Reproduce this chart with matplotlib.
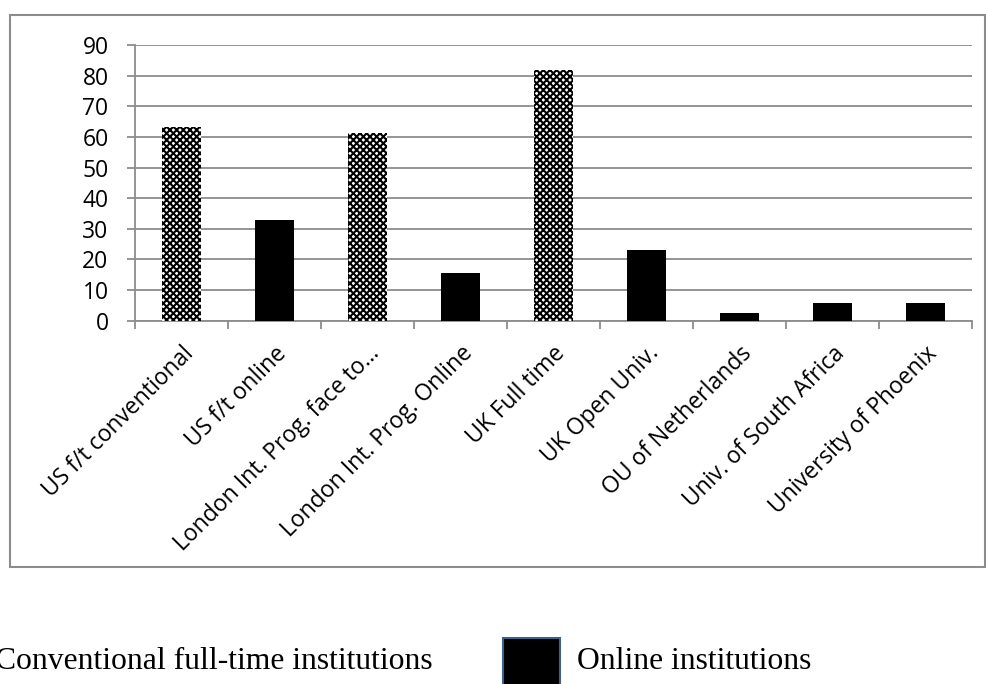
import matplotlib
matplotlib.use("Agg")
import matplotlib.pyplot as plt
from matplotlib.patches import Rectangle

# dados do gráfico
categorias = ["US f/t conventional", "US f/t online", "London Int. Prog. face to...",
              "London Int. Prog. Online", "UK Full time", "UK Open Univ.",
              "OU of Netherlands", "Univ. of South Africa", "University of Phoenix"]
valores = [63.1, 32.8, 61.4, 15.5, 82.0, 23.0, 2.5, 5.8, 5.8]
convencional = [True, False, True, False, True, False, False, False, False]
yticks = [0, 10, 20, 30, 40, 50, 60, 70, 80, 90]
legenda = ["Conventional full-time institutions", "Online institutions"]

W, H = 987, 684
cinza = "#8c8c8c"

plt.rcParams["hatch.linewidth"] = 1.5
fig = plt.figure(figsize=(W / 100, H / 100), dpi=100)
ax = fig.add_axes([135 / W, 1 - 320.7 / H, (972 - 135) / W, (320.7 - 45) / H])

x = list(range(len(categorias)))
for i, v in enumerate(valores):
    if convencional[i]:
        ax.bar(i, v, width=0.41, facecolor="white", edgecolor="black",
               hatch="xxxxx", linewidth=0, zorder=3)
    else:
        ax.bar(i, v, width=0.41, color="black", linewidth=0, zorder=3)

ax.set_xlim(-0.5, len(categorias) - 0.5)
ax.set_ylim(0, 90)
ax.set_yticks(yticks)
ax.set_xticks(x)
ax.set_xticklabels(categorias, rotation=45, ha="right", rotation_mode="anchor",
                   family="Open Sans", fontsize=16.5)
for lab in ax.get_yticklabels():
    lab.set_family("Open Sans")
    lab.set_fontsize(16.5)
ax.set_xticks([i - 0.5 for i in range(len(categorias) + 1)], minor=True)
ax.tick_params(axis="x", which="major", length=0, pad=15)
ax.tick_params(axis="x", which="minor", length=6, color=cinza, width=1.3, direction="out")
ax.tick_params(axis="y", length=6, color=cinza, width=1.3, pad=13)

ax.grid(axis="y", color=cinza, linewidth=1.3, zorder=0)
ax.set_axisbelow(True)
for s in ["top", "right"]:
    ax.spines[s].set_visible(False)
for s in ["left", "bottom"]:
    ax.spines[s].set_color(cinza)
    ax.spines[s].set_linewidth(1.3)

# moldura externa
fig.patches.append(Rectangle((10 / W, 1 - 567 / H), (985 - 10) / W, (567 - 15) / H,
                             transform=fig.transFigure, fill=False,
                             edgecolor=cinza, linewidth=1.5))

# legenda por baixo
fig.text(433 / W, 1 - 669 / H, legenda[0], ha="right", va="baseline",
         family="Liberation Serif", fontsize=22.8)
fig.patches.append(Rectangle((503 / W, 1 - 700 / H), 57 / W, 62 / H,
                             transform=fig.transFigure, facecolor="black",
                             edgecolor="#3f6089", linewidth=1.5))
fig.text(577 / W, 1 - 669 / H, legenda[1], ha="left", va="baseline",
         family="Liberation Serif", fontsize=22.8)

fig.savefig("out.png", dpi=100)
plt.close()
